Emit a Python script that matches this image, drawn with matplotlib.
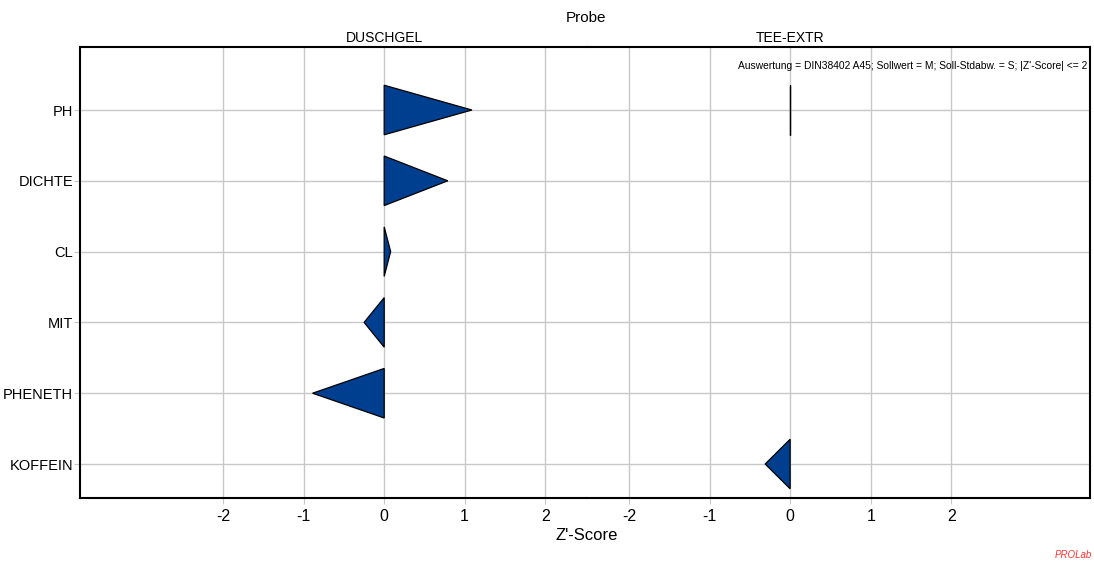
import numpy as np
import matplotlib
matplotlib.use("Agg")
import matplotlib.pyplot as plt

plt.rcParams['font.family'] = ['Liberation Sans', 'DejaVu Sans']

parameters = ["PH", "DICHTE", "CL", "MIT", "PHENETH", "KOFFEIN"]
samples = ["DUSCHGEL", "TEE-EXTR"]
z_duschgel = [1.09, 0.79, 0.08, -0.25, -0.89, np.nan]
z_tee = [0.0, np.nan, np.nan, np.nan, np.nan, -0.31]
series = [z_duschgel, z_tee]
xticks = [-2, -1, 0, 1, 2]

fill_color = "#003f8f"
grid_color = "#c8c8c8"
half_h = 0.35

fig = plt.figure(figsize=(10.94, 5.61), dpi=100)
left, right, bottom, top = 80 / 1094, 1090 / 1094, 1 - 498 / 561, 1 - 47 / 561
split = 587 / 1094
ax1 = fig.add_axes([left, bottom, split - left, top - bottom])
ax2 = fig.add_axes([split, bottom, right - split, top - bottom])
xlims = [(-3.78, 2.52), (-2.52, 3.72)]

for ax, vals, lim, name in zip([ax1, ax2], series, xlims, samples):
    ax.set_xlim(*lim)
    ax.set_ylim(len(parameters) - 0.52, -0.89)
    ax.set_xticks(xticks)
    ax.set_xticklabels([str(t) for t in xticks], fontsize=11.5)
    ax.set_yticks(range(len(parameters)))
    ax.grid(True, color=grid_color, linewidth=1.0)
    ax.set_axisbelow(True)
    ax.tick_params(axis='x', length=4, color=grid_color, pad=4)
    ax.tick_params(axis='y', length=4, color=grid_color, pad=1)
    for i, v in enumerate(vals):
        if np.isnan(v):
            continue
        ax.fill([0, v, 0], [i - half_h, i, i + half_h], facecolor=fill_color,
                edgecolor='black', linewidth=0.9, zorder=3)
    ax.text(0, 1.005, name, transform=ax.get_xaxis_transform(), ha='center',
            va='bottom', fontsize=10)
    for s in ax.spines.values():
        s.set_linewidth(1.5)

ax1.set_yticklabels(parameters, fontsize=10.5)
ax2.set_yticklabels([])
ax2.tick_params(axis='y', length=0)
ax1.spines['right'].set_visible(False)
ax2.spines['left'].set_visible(False)

fig.text(586 / 1094, 1 - 18 / 561, "Probe", ha='center', va='center', fontsize=11)
fig.text(587 / 1094, 1 - 535 / 561, "Z'-Score", ha='center', va='center', fontsize=12)
fig.text(1087 / 1094, 1 - 66 / 561,
         "Auswertung = DIN38402 A45; Sollwert = M; Soll-Stdabw. = S; |Z'-Score| <= 2",
         ha='right', va='center', fontsize=7.4)
fig.text(1092 / 1094, 1 - 555 / 561, "PROLab", ha='right', va='center', fontsize=7,
         color='#ff3333', style='italic')

fig.savefig("out.png", dpi=100)
